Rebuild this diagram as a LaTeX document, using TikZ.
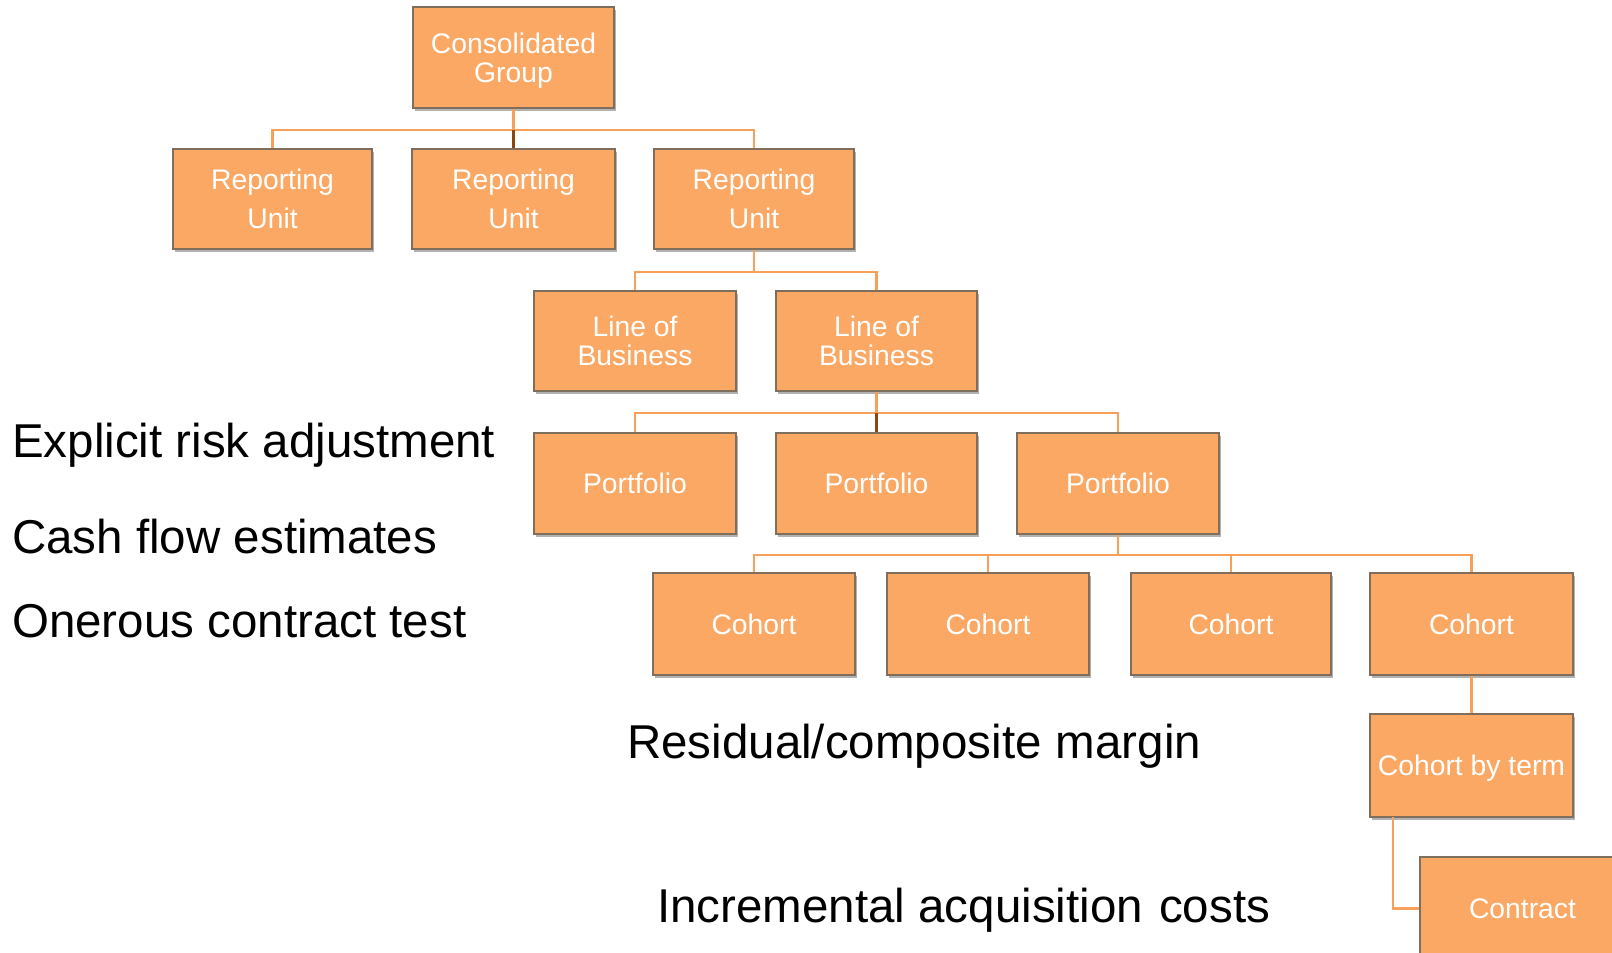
\documentclass[tikz,border=0pt]{standalone}
\usepackage{fontspec}
\setmainfont{Liberation Sans}
\usetikzlibrary{shadows}
\definecolor{boxfill}{RGB}{251,168,100}
\definecolor{boxedge}{RGB}{128,110,92}
\definecolor{linkline}{RGB}{248,160,90}
\definecolor{linkdark}{RGB}{140,70,15}
\tikzset{
  orgbox/.style={draw=boxedge, line width=1.6pt, fill=boxfill, text=white,
    align=center, inner sep=0pt, text depth=0pt, font=\fontsize{28.3}{29}\selectfont,
    drop shadow={shadow xshift=1.5pt, shadow yshift=-3pt, opacity=0.3, fill=black}},
  link/.style={draw=linkline, line width=2.4pt},
  darklink/.style={draw=linkdark, line width=2.4pt},
  note/.style={anchor=base west, inner sep=0pt, text=black, font=\fontsize{47.5}{50}\selectfont},
}
% place a box from its corner coordinates (x1,y1)-(x2,y2)
\newcommand{\orgnode}[6]{%
  \node[orgbox, minimum width={#4-#2}, minimum height={#5-#3}] (#1) at ({(#2+#4)/2},{(#3+#5)/2}) {#6};}
\begin{document}
\begin{tikzpicture}[x=1pt, y=-1pt]
\useasboundingbox (0,0) rectangle (1612,953);

% heights of the horizontal buses
\coordinate (busA) at (0,130);
\coordinate (busB) at (0,272);
\coordinate (busC) at (0,413);
\coordinate (busD) at (0,555);

% boxes
\orgnode{cg}{413}{7}{614}{108}{Consolidated\\Group}
\orgnode{ru1}{173}{149}{372}{249}{Reporting\\[10pt]Unit}
\orgnode{ru2}{412}{149}{615}{249}{Reporting\\[10pt]Unit}
\orgnode{ru3}{654}{149}{854}{249}{Reporting\\[10pt]Unit}
\orgnode{lob1}{534}{291}{736}{391}{Line of\\Business}
\orgnode{lob2}{776}{291}{977}{391}{Line of\\Business}
\orgnode{pf1}{534}{433}{736}{534}{Portfolio}
\orgnode{pf2}{776}{433}{977}{534}{Portfolio}
\orgnode{pf3}{1017}{433}{1219}{534}{Portfolio}
\orgnode{co1}{653}{573}{855}{675}{Cohort}
\orgnode{co2}{887}{573}{1089}{675}{Cohort}
\orgnode{co3}{1131}{573}{1331}{675}{Cohort}
\orgnode{co4}{1370}{573}{1573}{675}{Cohort}
\orgnode{cbt}{1370}{714}{1573}{817}{Cohort by term}
\orgnode{ct}{1420}{857}{1625}{960}{Contract}

% level 1
\draw[link] (cg.south) -- (cg.south |- busA);
\draw[link] (ru1.north) -- (ru1.north |- busA) -- (ru3.north |- busA) -- (ru3.north);
\draw[darklink] (ru2.north |- busA) -- (ru2.north);
% level 2
\draw[link] (ru3.south) -- (ru3.south |- busB);
\draw[link] (lob1.north) -- (lob1.north |- busB) -- (lob2.north |- busB) -- (lob2.north);
% level 3
\draw[link] (lob2.south) -- (lob2.south |- busC);
\draw[link] (pf1.north) -- (pf1.north |- busC) -- (pf3.north |- busC) -- (pf3.north);
\draw[darklink] (pf2.north |- busC) -- (pf2.north);
% level 4
\draw[link] (pf3.south) -- (pf3.south |- busD);
\draw[link] (co1.north) -- (co1.north |- busD) -- (co4.north |- busD) -- (co4.north);
\draw[link] (co2.north |- busD) -- (co2.north);
\draw[link] (co3.north |- busD) -- (co3.north);
% level 5
\draw[link] (co4.south) -- (cbt.north);
\coordinate (cbtdrop) at (1393,817);
\draw[link] (cbtdrop) -- (cbtdrop |- ct.west) -- (ct.west);

% notes
\node[note] (n1) at (12,457) {Explicit risk adjustment};
\node[note] (n2) at (12,553) {Cash flow estimates};
\node[note] (n3) at (12,637) {Onerous contract test};
\node[note] (n4) at (627,758) {Residual/composite\hspace{1pt} margin};
\node[note] (n5) at (657,922) {Incremental acquisition\hspace{3pt} costs};
\end{tikzpicture}
\end{document}
